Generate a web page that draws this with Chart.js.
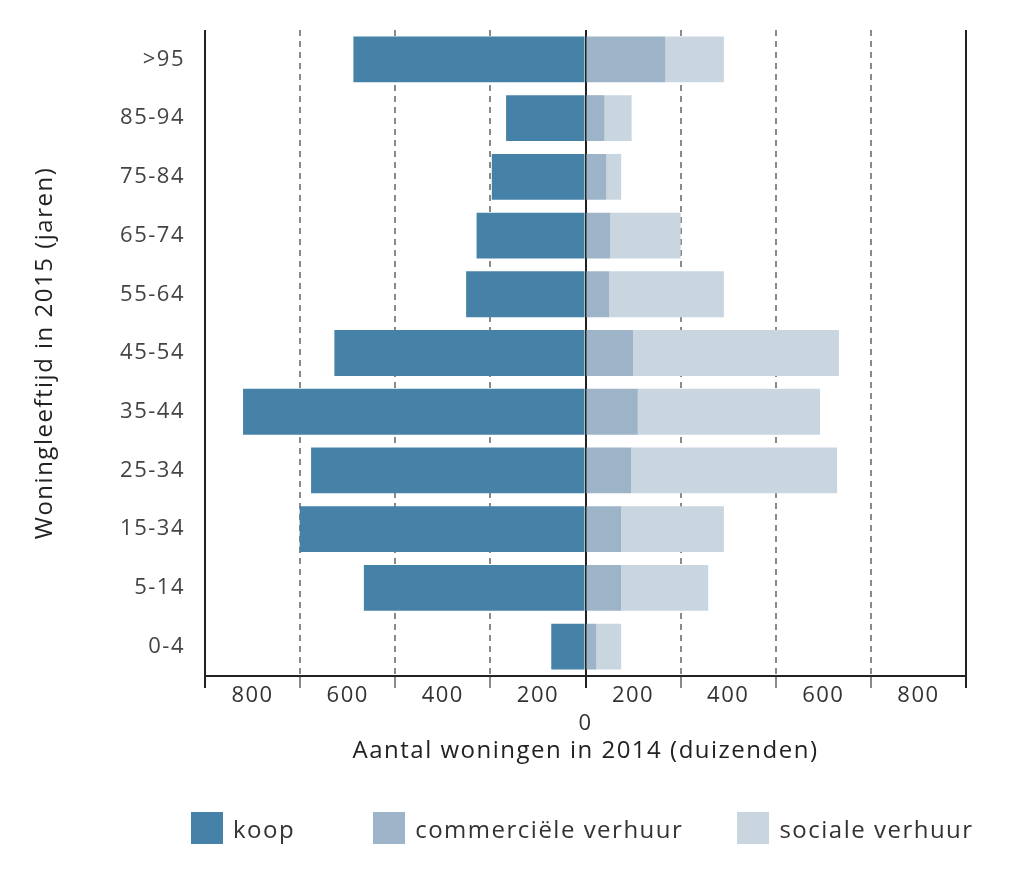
<!DOCTYPE html>
<html lang="nl">
<head>
  <meta charset="UTF-8">
  <title>Woningleeftijd naar eigendom</title>
  <script src="https://cdn.jsdelivr.net/npm/chart.js"></script>
  <style>
    body {
      margin: 0;
      background-color: #ffffff;
    }
    .wrap {
      position: relative;
      width: 1024px;
      height: 879px;
    }
    #legend {
      position: absolute;
      left: 191px;
      top: 812px;
      display: flex;
      font-family: "Open Sans", "DejaVu Sans", sans-serif;
      font-size: 24px;
      letter-spacing: 1.5px;
      color: #333;
    }
    #legend .item {
      display: flex;
      align-items: center;
      height: 32px;
    }
    #legend .item:nth-child(1) { margin-right: 78px; }
    #legend .item:nth-child(2) { margin-right: 54px; }
    #legend .box {
      width: 32px;
      height: 32px;
      margin-right: 10px;
    }
  </style>
</head>
<body>
  <div class="wrap">
    <canvas id="pyramid" width="1024" height="879"></canvas>
    <div id="legend"></div>
  </div>

  <script>
    // leeftijdsklassen, van boven naar beneden
    const categories = ['>95', '85-94', '75-84', '65-74', '55-64', '45-54', '35-44', '25-34', '15-34', '5-14', '0-4'];

    const koop = [488, 167, 197, 229, 251, 528, 720, 577, 601, 466, 72];
    const commercieel = [168, 40, 44, 52, 50, 100, 110, 96, 75, 75, 23];
    const sociaal = [123, 57, 31, 148, 241, 433, 383, 433, 216, 183, 52];

    const axisMin = -800;
    const axisMax = 800;

    const textColor = '#333333';
    const font = '"Open Sans", "DejaVu Sans", sans-serif';

    function gridColor(ctx) {
      if (!ctx.tick) return '#222';
      const v = Math.abs(ctx.tick.value);
      if (v === 0 || v === 800) return '#222';
      if (v % 200 === 0) return '#8a8a8a';
      return 'rgba(0,0,0,0)';
    }

    // wat extra letterafstand, zoals in het origineel
    const spacing = {
      id: 'spacing',
      beforeUpdate(chart) { chart.ctx.letterSpacing = '1.5px'; },
      beforeDraw(chart) { chart.ctx.letterSpacing = '1.5px'; }
    };

    const chart = new Chart(document.getElementById('pyramid').getContext('2d'), {
      type: 'bar',
      data: {
        labels: categories,
        datasets: [
          {
            label: 'koop',
            data: koop.map(v => -v),
            backgroundColor: '#4682A8'
          },
          {
            label: 'commerciële verhuur',
            data: commercieel,
            backgroundColor: '#9CB3C8'
          },
          {
            label: 'sociale verhuur',
            data: sociaal,
            backgroundColor: '#C9D6E0'
          }
        ]
      },
      plugins: [spacing],
      options: {
        indexAxis: 'y',
        responsive: false,
        animation: false,
        layout: {
          padding: { left: 20, right: 58, top: 30, bottom: 113 }
        },
        datasets: {
          bar: {
            barPercentage: 0.78,
            categoryPercentage: 1,
            borderWidth: 0
          }
        },
        scales: {
          x: {
            stacked: true,
            min: axisMin,
            max: axisMax,
            afterFit: scale => { scale.height = 90; },
            ticks: {
              stepSize: 100,
              autoSkip: false,
              maxRotation: 0,
              padding: -6,
              color: textColor,
              font: { family: font, size: 22, lineHeight: 1.25 },
              callback: value => {
                const v = Math.abs(value);
                if (v === 0) return ['', '0'];
                if (v % 200 === 100) return String(v + 100);
                return '';
              }
            },
            grid: {
              color: gridColor,
              tickColor: gridColor,
              lineWidth: 2,
              tickWidth: 2,
              tickLength: 12
            },
            border: {
              display: true,
              color: '#222',
              width: 2,
              dash: ctx => {
                if (!ctx.tick) return [];
                const v = Math.abs(ctx.tick.value);
                return (v === 0 || v === 800) ? [] : [6, 5];
              }
            },
            title: {
              display: true,
              text: 'Aantal woningen in 2014 (duizenden)',
              color: '#222',
              font: { family: font, size: 24 },
              padding: { top: 0, bottom: 0 }
            }
          },
          y: {
            stacked: true,
            afterFit: scale => { scale.width = 185; },
            grid: { display: false },
            border: { display: false },
            ticks: {
              color: '#444',
              padding: 12,
              font: { family: font, size: 22 }
            },
            title: {
              display: true,
              text: 'Woningleeftijd in 2015 (jaren)',
              color: '#222',
              font: { family: font, size: 24 },
              padding: { top: 11, bottom: 0 }
            }
          }
        },
        plugins: {
          tooltip: { enabled: false },
          legend: { display: false }
        }
      }
    });

    // legenda in HTML, opgebouwd uit de datasets
    const legend = document.getElementById('legend');
    chart.data.datasets.forEach(ds => {
      const item = document.createElement('div');
      item.className = 'item';
      const box = document.createElement('span');
      box.className = 'box';
      box.style.backgroundColor = ds.backgroundColor;
      const label = document.createElement('span');
      label.textContent = ds.label;
      item.appendChild(box);
      item.appendChild(label);
      legend.appendChild(item);
    });
  </script>
</body>
</html>
